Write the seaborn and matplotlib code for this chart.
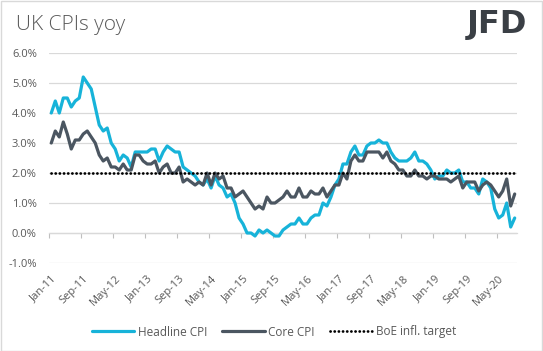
import numpy as np
import pandas as pd
import matplotlib
matplotlib.use("Agg")
import matplotlib.pyplot as plt
from matplotlib.lines import Line2D
from matplotlib.patches import Rectangle
import seaborn as sns

# ---- data (monthly, Jan-2011 .. Sep-2020) ----
headline_cpi = [
    4.0, 4.4, 4.0, 4.5, 4.5, 4.2, 4.4, 4.5, 5.2, 5.0, 4.8, 4.2,   # 2011
    3.6, 3.4, 3.5, 3.0, 2.8, 2.4, 2.6, 2.5, 2.2, 2.7, 2.7, 2.7,   # 2012
    2.7, 2.8, 2.8, 2.4, 2.7, 2.9, 2.8, 2.7, 2.7, 2.2, 2.1, 2.0,   # 2013
    1.9, 1.7, 1.6, 1.8, 1.5, 1.9, 1.6, 1.5, 1.2, 1.3, 1.0, 0.5,   # 2014
    0.3, 0.0, 0.0, -0.1, 0.1, 0.0, 0.1, 0.0, -0.1, -0.1, 0.1, 0.2,  # 2015
    0.3, 0.3, 0.5, 0.3, 0.3, 0.5, 0.6, 0.6, 1.0, 0.9, 1.2, 1.6,   # 2016
    1.8, 2.3, 2.3, 2.7, 2.9, 2.6, 2.6, 2.9, 3.0, 3.0, 3.1, 3.0,   # 2017
    3.0, 2.7, 2.5, 2.4, 2.4, 2.4, 2.5, 2.7, 2.4, 2.4, 2.3, 2.1,   # 2018
    1.8, 1.9, 1.9, 2.1, 2.0, 2.0, 2.1, 1.7, 1.7, 1.5, 1.5, 1.3,   # 2019
    1.8, 1.7, 1.5, 0.8, 0.5, 0.6, 1.0, 0.2, 0.5,                  # 2020
]
core_cpi = [
    3.0, 3.4, 3.2, 3.7, 3.3, 2.8, 3.1, 3.1, 3.3, 3.4, 3.2, 3.0,   # 2011
    2.6, 2.4, 2.5, 2.2, 2.2, 2.1, 2.3, 2.1, 2.1, 2.6, 2.6, 2.4,   # 2012
    2.3, 2.3, 2.4, 2.0, 2.2, 2.3, 2.0, 2.0, 2.2, 1.7, 1.8, 1.7,   # 2013
    1.6, 1.7, 1.6, 2.0, 1.6, 2.0, 1.8, 1.9, 1.5, 1.5, 1.2, 1.3,   # 2014
    1.4, 1.2, 1.0, 0.8, 0.9, 0.8, 1.2, 1.0, 1.0, 1.1, 1.2, 1.4,   # 2015
    1.2, 1.2, 1.5, 1.2, 1.2, 1.4, 1.3, 1.3, 1.5, 1.2, 1.4, 1.6,   # 2016
    1.6, 2.0, 1.8, 2.4, 2.6, 2.4, 2.4, 2.7, 2.7, 2.7, 2.7, 2.5,   # 2017
    2.7, 2.4, 2.3, 2.1, 2.1, 1.9, 1.9, 2.1, 1.9, 1.9, 1.8, 1.9,   # 2018
    1.9, 1.8, 1.8, 1.8, 1.7, 1.8, 1.9, 1.5, 1.7, 1.7, 1.7, 1.4,   # 2019
    1.6, 1.7, 1.6, 1.4, 1.2, 1.4, 1.8, 0.9, 1.3,                  # 2020
]
boe_target_value = 2.0
months = pd.date_range("2011-01-01", periods=len(headline_cpi), freq="MS")
month_labels = [d.strftime("%b-%y") for d in months]
series_names = ["Headline CPI", "Core CPI", "BoE infl. target"]
y_ticks = [-1.0, 0.0, 1.0, 2.0, 3.0, 4.0, 5.0, 6.0]

n = len(headline_cpi)
idx = np.arange(n)
df = pd.DataFrame({
    "i": np.concatenate([idx, idx, idx]),
    "value": headline_cpi + core_cpi + [boe_target_value] * n,
    "series": np.repeat(series_names, n),
})

# ---- style ----
sns.set_theme(style="white")
plt.rcParams["font.family"] = ["Open Sans", "DejaVu Sans"]

c_head = "#17B3D9"
c_core = "#4B5661"
c_txt = "#595959"
c_grid = "#D9D9D9"

fig = plt.figure(figsize=(5.43, 3.51), dpi=100)
ax = fig.add_axes([49.3 / 543, 1 - 263 / 351, (516.7 - 49.3) / 543, (263 - 53) / 351])

sns.lineplot(data=df[df.series == "Headline CPI"], x="i", y="value", ax=ax,
             color=c_head, lw=2.3, legend=False, zorder=3)
sns.lineplot(data=df[df.series == "Core CPI"], x="i", y="value", ax=ax,
             color=c_core, lw=2.3, legend=False, zorder=4)
sns.lineplot(data=df[df.series == "BoE infl. target"], x="i", y="value", ax=ax,
             color="black", lw=2.0, legend=False, zorder=5,
             linestyle=(0, (0.05, 1.45)), dash_capstyle="round")

ax.set_xlim(-0.5, n - 0.5)
ax.set_ylim(-1, 6)
ax.set_yticks(y_ticks)
ax.set_yticklabels([f"{v:.1f}%" for v in y_ticks], color=c_txt, fontsize=8)
ax.yaxis.grid(True, color=c_grid, lw=0.9)
ax.set_axisbelow(True)
for s in ax.spines.values():
    s.set_visible(False)
ax.tick_params(axis="y", length=0, pad=9)

lab_pos = list(range(0, n, 8))
ax.set_xticks(lab_pos)
ax.set_xticklabels([month_labels[p] for p in lab_pos], rotation=45, ha="right",
                   rotation_mode="anchor", color=c_txt, fontsize=8)
ax.tick_params(axis="x", length=0, pad=7)
ax.set_xlabel("")
ax.set_ylabel("")

# tick marks on the 0% line
sec = ax.secondary_xaxis(1 / 7)
sec.set_xticks([p - 0.5 for p in lab_pos])
sec.set_xticklabels([])
sec.tick_params(axis="x", direction="out", length=3.5, color="#BFBFBF", width=0.8)
sec.spines["bottom"].set_color(c_grid)
sec.spines["bottom"].set_linewidth(0.9)

# legend
handles = [
    Line2D([], [], color=c_head, lw=2.3),
    Line2D([], [], color=c_core, lw=2.3),
    Line2D([], [], color="black", lw=2.0, linestyle=(0, (0.05, 1.45)), dash_capstyle="round"),
]
fig.legend(handles, series_names, loc="center", bbox_to_anchor=(274 / 543, 1 - 332 / 351),
           ncol=3, frameon=False, fontsize=8.5, labelcolor=c_txt, handlelength=3.6,
           handletextpad=0.3, columnspacing=1.3)

# title and logo
fig.text(16 / 543, 1 - 25 / 351, "UK CPIs yoy", fontsize=15, color=c_txt,
         va="center", ha="left", fontweight="light")
fig.text(527 / 543, 1 - 25 / 351, "JFD", fontsize=23, color="#3A3F45",
         va="center", ha="right", fontweight="heavy", family="DejaVu Sans")

# figure border
fig.patches.append(Rectangle((0.5 / 543, 0.5 / 351), 1 - 1.5 / 543, 1 - 1.5 / 351,
                             transform=fig.transFigure, fill=False,
                             edgecolor=c_grid, lw=1.0))

fig.savefig("out.png", dpi=100)
